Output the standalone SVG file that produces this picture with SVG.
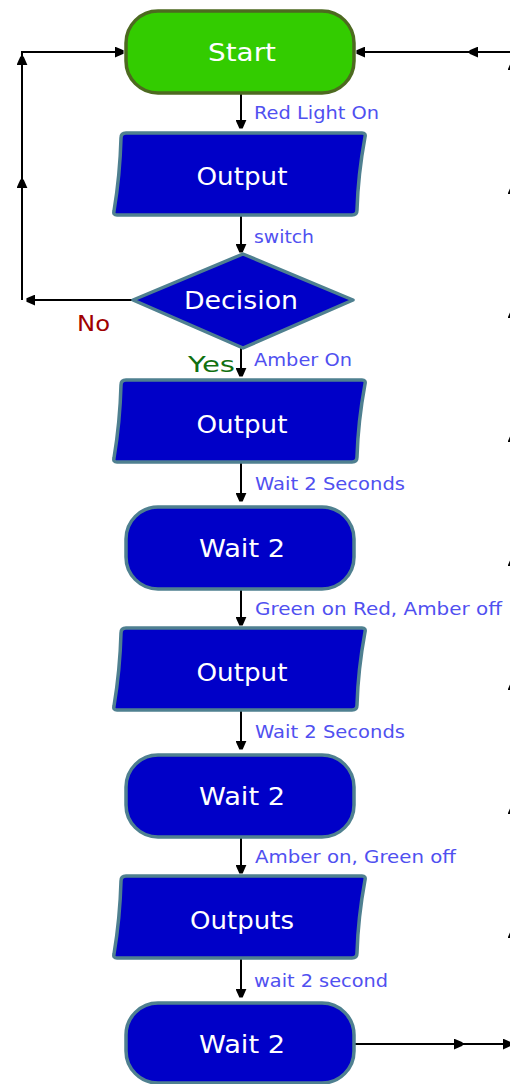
<svg xmlns="http://www.w3.org/2000/svg" width="510" height="1084" viewBox="0 0 510 1084">
<defs>
<marker id="arr" viewBox="0 0 8 10" refX="7.5" refY="5" markerWidth="4.5" markerHeight="5.5" markerUnits="strokeWidth" orient="auto">
<path d="M0,0 L8,3.5 L8,6.5 L0,10 z" fill="#000"/>
</marker>
<style>
.conn{fill:none;stroke:#000;stroke-width:2;marker-end:url(#arr)}
.blue{fill:#0000c8;stroke:#4f8090;stroke-width:3.5}
.green{fill:#33cc00;stroke:#4d6a20;stroke-width:3.5}
.nt{font-family:"DejaVu Sans",Verdana,sans-serif;font-size:25px;fill:#fff;text-anchor:middle}
.lbl{font-family:"DejaVu Sans",Verdana,sans-serif;font-size:17px;fill:#5050f0}
</style>
</defs>
<rect width="510" height="1084" fill="#fff"/>
<g id="connectors">
<path class="conn" d="M241,94 V128"/>
<path class="conn" d="M241,216 V252"/>
<path class="conn" d="M241,348 V376"/>
<path class="conn" d="M241,463 V501"/>
<path class="conn" d="M241,590 V625"/>
<path class="conn" d="M241,711 V749"/>
<path class="conn" d="M241,838 V873"/>
<path class="conn" d="M241,959 V997"/>
<path class="conn" d="M133,300 H27"/>
<path class="conn" d="M22,300 V180"/>
<path class="conn" d="M22,180 V57"/>
<path style="fill:none;stroke:#000;stroke-width:2" d="M22,58 V52 H30"/>
<path class="conn" d="M22,52 H123"/>
<path class="conn" d="M355,1044 H462"/>
<path class="conn" d="M462,1044 H511"/>
<path class="conn" d="M513,1044 V930"/>
<path class="conn" d="M513,930 V806"/>
<path class="conn" d="M513,806 V682"/>
<path class="conn" d="M513,682 V558"/>
<path class="conn" d="M513,558 V434"/>
<path class="conn" d="M513,434 V310"/>
<path class="conn" d="M513,310 V186"/>
<path class="conn" d="M513,186 V62"/>
<path class="conn" d="M513,52 H470"/>
<path class="conn" d="M470,52 H357"/>
<text class="lbl" x="254" y="119" textLength="125" lengthAdjust="spacingAndGlyphs">Red Light On</text>
<text class="lbl" x="254" y="243" textLength="60" lengthAdjust="spacingAndGlyphs">switch</text>
<text class="lbl" x="254" y="366" textLength="98" lengthAdjust="spacingAndGlyphs">Amber On</text>
<text class="lbl" x="255" y="490" textLength="150" lengthAdjust="spacingAndGlyphs">Wait 2 Seconds</text>
<text class="lbl" x="255" y="615" textLength="247" lengthAdjust="spacingAndGlyphs">Green on Red, Amber off</text>
<text class="lbl" x="255" y="738" textLength="150" lengthAdjust="spacingAndGlyphs">Wait 2 Seconds</text>
<text class="lbl" x="255" y="863" textLength="201" lengthAdjust="spacingAndGlyphs">Amber on, Green off</text>
<text class="lbl" x="254" y="987" textLength="134" lengthAdjust="spacingAndGlyphs">wait 2 second</text>
<text x="77" y="331" font-family="DejaVu Sans,Verdana,sans-serif" font-size="22" fill="#a00000" textLength="33" lengthAdjust="spacingAndGlyphs">No</text>
<text x="188" y="372" font-family="DejaVu Sans,Verdana,sans-serif" font-size="22" fill="#107010" textLength="47" lengthAdjust="spacingAndGlyphs">Yes</text>
</g>
<g id="start">
<rect class="green" x="126" y="11" width="228" height="82" rx="32"/>
<text class="nt" x="242" y="61" textLength="68" lengthAdjust="spacingAndGlyphs">Start</text>
</g>
<g id="output1">
<path class="blue" d="M126,133 H362 Q366,133 365,137 Q358,175 357,210 Q357,215 352,215 H117 Q113,215 114,211 Q120,175 121,138 Q121,133 126,133 z"/>
<text class="nt" x="242" y="185" textLength="91" lengthAdjust="spacingAndGlyphs">Output</text>
</g>
<g id="decision">
<path class="blue" d="M133,300 L243,254 L353,300 L243,348 z" stroke-linejoin="round"/>
<text class="nt" x="241" y="309" textLength="114" lengthAdjust="spacingAndGlyphs">Decision</text>
</g>
<g id="output2">
<path class="blue" d="M126,380 H362 Q366,380 365,384 Q358,422 357,457 Q357,462 352,462 H117 Q113,462 114,458 Q120,422 121,385 Q121,380 126,380 z"/>
<text class="nt" x="242" y="433" textLength="91" lengthAdjust="spacingAndGlyphs">Output</text>
</g>
<g id="wait1">
<rect class="blue" x="126" y="507" width="228" height="82" rx="32"/>
<text class="nt" x="242" y="557" textLength="86" lengthAdjust="spacingAndGlyphs">Wait 2</text>
</g>
<g id="output3">
<path class="blue" d="M126,628 H362 Q366,628 365,632 Q358,670 357,705 Q357,710 352,710 H117 Q113,710 114,706 Q120,670 121,633 Q121,628 126,628 z"/>
<text class="nt" x="242" y="681" textLength="91" lengthAdjust="spacingAndGlyphs">Output</text>
</g>
<g id="wait2">
<rect class="blue" x="126" y="755" width="228" height="82" rx="32"/>
<text class="nt" x="242" y="805" textLength="86" lengthAdjust="spacingAndGlyphs">Wait 2</text>
</g>
<g id="outputs">
<path class="blue" d="M126,876 H362 Q366,876 365,880 Q358,918 357,953 Q357,958 352,958 H117 Q113,958 114,954 Q120,918 121,881 Q121,876 126,876 z"/>
<text class="nt" x="242" y="929" textLength="104" lengthAdjust="spacingAndGlyphs">Outputs</text>
</g>
<g id="wait3">
<rect class="blue" x="126" y="1003" width="228" height="80" rx="32"/>
<text class="nt" x="242" y="1053" textLength="86" lengthAdjust="spacingAndGlyphs">Wait 2</text>
</g>
</svg>
